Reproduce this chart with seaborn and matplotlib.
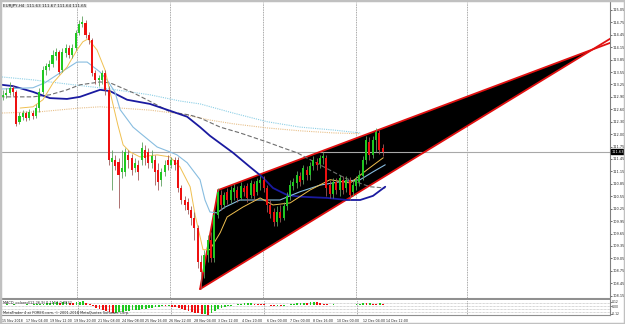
import numpy as np
import pandas as pd
import matplotlib
matplotlib.use("Agg")
import matplotlib.pyplot as plt
from matplotlib.patches import Polygon, Rectangle
import seaborn as sns

sns.set_theme(style="white")
plt.rcParams['font.family'] = ['DejaVu Sans']

# ---------------- data ----------------
opens = [112.95, 113.00, 113.05, 113.17, 113.07, 112.35, 112.47, 112.56, 112.44, 112.56,
         112.49, 112.68, 113.07, 113.60, 113.67, 113.75, 113.94, 114.03, 113.60, 114.01,
         114.13, 113.96, 114.13, 114.49, 114.71, 114.73, 114.45, 114.32, 113.53, 113.36,
         113.36, 113.53, 113.12, 111.38, 111.43, 111.38, 111.14, 111.14, 111.55, 111.48,
         111.23, 111.31, 111.43, 111.67, 111.62, 111.36, 111.43, 111.19, 110.95, 111.14,
         111.43, 111.31, 111.43, 111.43, 110.75, 110.46, 110.41, 110.22, 110.03, 109.79,
         108.97, 108.72, 109.13, 109.50, 109.06, 110.10, 110.58, 110.34, 110.66, 110.46,
         110.66, 110.70, 110.51, 110.75, 110.80, 110.58, 110.85, 110.66, 110.87, 110.95,
         110.75, 110.34, 110.17, 109.93, 110.17, 110.03, 110.32, 110.56, 110.80, 110.87,
         111.04, 110.95, 111.19, 111.07, 111.28, 111.38, 111.33, 111.48, 111.48, 110.82,
         110.61, 110.90, 110.70, 110.95, 110.75, 110.95, 110.66, 110.80, 110.90, 111.04,
         111.43, 111.86, 111.55, 111.91, 112.08, 111.72]
closes = [113.00, 113.05, 113.17, 113.07, 112.30, 112.49, 112.56, 112.44, 112.59, 112.49,
          112.68, 113.07, 113.60, 113.70, 113.75, 113.96, 114.03, 113.55, 114.03, 114.13,
          113.96, 114.13, 114.49, 114.71, 114.76, 114.45, 114.32, 113.53, 113.36, 113.41,
          113.53, 113.12, 111.43, 111.48, 111.28, 111.07, 111.23, 111.62, 111.43, 111.19,
          111.36, 111.14, 111.72, 111.48, 111.36, 111.52, 111.14, 110.90, 111.14, 111.31,
          111.31, 111.43, 111.31, 110.75, 110.46, 110.34, 110.22, 110.03, 109.79, 108.97,
          108.72, 109.13, 109.50, 109.06, 110.10, 110.66, 110.34, 110.58, 110.46, 110.70,
          110.75, 110.51, 110.80, 110.66, 110.51, 110.87, 110.56, 110.92, 110.95, 110.75,
          110.34, 110.12, 109.93, 110.17, 110.03, 110.32, 110.56, 110.82, 110.90, 111.07,
          110.90, 111.23, 111.07, 111.28, 111.43, 111.31, 111.48, 111.52, 110.75, 110.61,
          110.90, 110.70, 110.99, 110.70, 110.95, 110.58, 110.82, 110.95, 111.07, 111.43,
          111.91, 111.55, 111.91, 112.10, 111.67, 111.63]
highs = [113.12, 113.17, 113.31, 113.24, 113.12, 112.59, 112.64, 112.61, 112.66, 112.64,
         112.78, 113.17, 113.70, 113.77, 113.84, 114.08, 114.13, 114.08, 114.13, 114.23,
         114.20, 114.23, 114.57, 114.81, 114.90, 114.81, 114.52, 114.37, 113.60, 113.48,
         113.60, 113.60, 113.21, 111.67, 111.55, 111.48, 111.67, 111.72, 111.67, 111.57,
         111.48, 111.43, 111.86, 111.79, 111.72, 111.67, 111.55, 111.36, 111.23, 111.43,
         111.55, 111.50, 111.50, 111.50, 110.82, 110.56, 110.51, 110.32, 110.17, 109.86,
         109.13, 109.26, 109.62, 109.69, 110.22, 110.75, 110.70, 110.66, 110.75, 110.80,
         110.85, 110.80, 110.90, 110.82, 110.87, 110.95, 110.92, 110.99, 111.04, 111.04,
         110.82, 110.46, 110.27, 110.32, 110.34, 110.41, 110.66, 110.95, 110.99, 111.16,
         111.14, 111.31, 111.28, 111.38, 111.52, 111.48, 111.55, 111.62, 111.55, 110.95,
         110.99, 110.99, 111.07, 111.04, 111.04, 111.02, 110.95, 111.04, 111.19, 111.52,
         112.01, 111.98, 112.01, 112.20, 112.15, 111.81]
lows = [112.88, 112.92, 113.00, 112.97, 112.25, 112.30, 112.39, 112.37, 112.39, 112.42,
        112.44, 112.59, 113.02, 113.48, 113.60, 113.67, 113.84, 113.50, 113.55, 113.91,
        113.89, 113.89, 114.08, 114.45, 114.64, 114.37, 114.23, 113.46, 113.26, 113.21,
        113.26, 113.00, 111.31, 110.70, 111.19, 110.27, 110.99, 111.04, 111.23, 111.07,
        111.14, 110.95, 111.31, 111.31, 111.23, 111.23, 110.82, 110.70, 110.80, 111.04,
        111.19, 111.23, 111.19, 110.66, 110.37, 110.22, 110.12, 109.86, 109.50, 108.82,
        108.31, 108.58, 108.97, 108.97, 108.97, 110.03, 110.22, 110.27, 110.37, 110.39,
        110.46, 110.41, 110.46, 110.56, 110.41, 110.51, 110.46, 110.58, 110.70, 110.66,
        110.17, 110.03, 109.83, 109.83, 109.93, 109.98, 110.22, 110.46, 110.70, 110.75,
        110.80, 110.85, 110.95, 110.95, 111.19, 111.19, 111.23, 111.33, 110.56, 110.51,
        110.51, 110.61, 110.56, 110.61, 110.66, 110.46, 110.56, 110.70, 110.80, 110.95,
        111.33, 111.43, 111.48, 111.62, 111.57, 111.52]

# moving averages: (bar position, price)
ma_navy_x = [-0.3, 3.0, 9.1, 14.2, 19.4, 23.3, 29.4, 32.4, 37.6, 44.5, 51.5, 55.8, 59.7,
             62.7, 69.7, 74.8, 78.5, 81.8, 86.1, 90.0, 98.2, 104.2, 108.2, 112.1, 115.8]
ma_navy_y = [113.24, 113.21, 113.07, 112.92, 112.90, 112.95, 113.12, 113.09, 112.88, 112.78,
             112.59, 112.47, 112.22, 112.01, 111.60, 111.26, 111.02, 110.75, 110.58, 110.54,
             110.51, 110.46, 110.46, 110.56, 110.78]
ma_dash_x = [-0.9, 9.1, 14.2, 19.4, 23.3, 29.4, 32.4, 39.4, 43.6, 50.6, 56.7, 59.7, 65.8,
             71.8, 80.0, 84.8, 89.1, 96.0, 103.6, 111.2, 115.8]
ma_dash_y = [112.95, 112.95, 113.00, 113.12, 113.24, 113.31, 113.29, 113.05, 112.88, 112.59,
             112.51, 112.44, 112.22, 112.08, 111.86, 111.72, 111.60, 111.31, 110.99, 110.78,
             110.75]
ma_sky_x = [-0.3, 9.1, 19.4, 32.4, 44.5, 53.6, 59.7, 69.7, 80.0, 90.0, 100.0, 108.2]
ma_sky_y = [113.43, 113.36, 113.26, 113.14, 113.00, 112.85, 112.78, 112.56, 112.35, 112.22,
            112.15, 112.08]
ma_tan_x = [-0.3, 11.2, 23.3, 29.4, 35.5, 44.5, 53.6, 62.7, 69.7, 80.0, 90.0, 100.0, 108.2]
ma_tan_y = [112.56, 112.59, 112.68, 112.71, 112.68, 112.63, 112.54, 112.39, 112.30, 112.20,
            112.13, 112.08, 112.06]
ma_blue_x = [-0.3, 9.1, 12.7, 17.3, 22.4, 25.5, 29.4, 31.5, 33.9, 35.5, 39.4, 41.5, 46.7,
             50.6, 52.7, 55.8, 59.7, 61.2, 62.7, 64.8, 67.3, 71.8, 78.8, 83.9, 90.0, 96.1,
             102.1, 108.2, 112.1, 115.8]
ma_blue_y = [113.14, 113.17, 113.29, 113.53, 113.79, 113.79, 113.55, 113.36, 113.07, 112.64,
             112.22, 112.08, 111.74, 111.62, 111.55, 111.36, 110.95, 110.46, 110.17, 110.15,
             110.29, 110.46, 110.46, 110.46, 110.66, 110.82, 110.90, 110.95, 111.14, 111.31]
ma_gold_x = [5.2, 9.1, 12.1, 15.2, 19.4, 22.4, 24.2, 25.8, 28.5, 30.9, 33.0, 34.8, 36.4,
             38.5, 41.5, 46.7, 50.6, 53.6, 56.7, 58.2, 60.6, 62.7, 65.8, 67.9, 72.7, 77.9,
             81.8, 87.0, 93.0, 99.1, 105.2, 110.3, 115.2]
ma_gold_y = [112.68, 112.71, 112.88, 113.29, 113.67, 114.08, 114.28, 114.35, 114.08, 113.60,
             112.88, 112.27, 111.79, 111.62, 111.50, 111.55, 111.50, 111.26, 110.78, 110.10,
             109.26, 109.26, 109.67, 110.05, 110.29, 110.51, 110.34, 110.39, 110.70, 110.95,
             110.87, 111.19, 111.48]

# triangle object
tri_x = [59.7, 65.2, 178.7]
tri_y = [108.31, 110.70, 114.10]
line_end_x = 184.5
upper_end_y = 114.27
lower_end_y = 114.38

# indicator histogram
hist = [0.5, 0.6, 0.4, 0.7, 0.5, 0.3, 0.4, 0.6, 0.5, 0.7, 0.8, 1.0,
        1.5, 2.0, 2.5, 2.7, 3.0, 2.5, 3.0, 3.2, 2.5, 2.0, 3.0, 3.5, 3.8,
        2.0, 1.0, -1.0, -3.0, -4.0, -5.0, -6.0, -7.0, -8.0,
        -7.5, -7.0, -6.5, -6.0, -5.5, -5.0, -4.8, -4.5, -4.0, -3.5, -3.0, -2.5, -2.0, -1.5,
        -1.0, -1.2, -1.0, -1.5, -2.0,
        -3.0, -4.0, -5.0, -6.0, -7.0, -7.5, -8.0, -9.0, -9.0, -9.5, -8.0, -6.0, -4.0,
        -3.0, -2.0, -1.0, -0.5, 0.5, 1.0, 1.5, 1.6, 2.0, 2.1,
        1.5, 1.4, 1.0, 0.8, 0.5, -0.5, -1.0, -0.8, -1.2, -0.6,
        0.5, 1.0, 1.5, 1.8, 2.0, 2.5, 2.3, 2.8, 3.0, 2.6, 2.2,
        1.0, 0.8, 0.5, 0.6, 0.4, 0.5, 0.3, 0.4, 0.2, 0.5,
        1.0, 1.5, 2.0, 1.8, 2.2, 1.5, 1.2, 1.6, 1.3]
hist_levels = [2.0, -1.0, -4.0, -7.0]

price_ticks = [115.05, 114.75, 114.45, 114.15, 113.85, 113.55, 113.25, 112.95, 112.65, 112.35,
               112.05, 111.75, 111.45, 111.15, 110.85, 110.55, 110.25, 109.95, 109.65, 109.35,
               109.05, 108.75, 108.45, 108.15]
price_labels = ["115.05", "114.75", "114.45", "114.15", "113.85", "113.55", "113.25", "112.90",
                "112.60", "112.30", "112.00", "111.75", "111.45", "111.15", "110.85", "110.55",
                "110.25", "109.95", "109.65", "109.35", "109.05", "108.75", "108.45", "108.15"]
current_price = 111.63
date_pos = [-0.6, 6.7, 13.9, 21.2, 28.5, 35.8, 42.7, 50.0, 57.6, 64.8, 72.1, 79.7, 86.7,
            93.9, 101.2, 108.8, 115.8]
date_labels = ["15 Nov 2018", "17 Nov 04:00", "19 Nov 12:00", "19 Nov 20:00", "21 Nov 08:00",
               "24 Nov 08:00", "25 Nov 16:00", "26 Nov 22:00", "28 Nov 04:00", "3 Dec 12:00",
               "4 Dec 20:00", "6 Dec 00:00", "7 Dec 00:00", "8 Dec 16:00", "10 Dec 00:00",
               "12 Dec 04:00", "14 Dec 12:00"]
separators = [22.4, 50.6, 78.8, 107.0, 140.6]

# ---------------- figure ----------------
W, H = 625, 324
fig = plt.figure(figsize=(W / 100, H / 100), dpi=100, facecolor="white")
ax = fig.add_axes([2 / W, (H - 299) / H, 608 / W, 297 / H])
ax2 = fig.add_axes([2 / W, (H - 315) / H, 608 / W, 15 / H])

XMIN, XMAX = -0.3, 183.9
for a in (ax, ax2):
    a.set_xlim(XMIN, XMAX)
    a.set_facecolor("white")
ax.set_ylim(108.07, 115.24)
ax2.set_ylim(-10, 5)

# period separators
for s in separators:
    ax.axvline(s, color="#8a8a8a", lw=0.6, ls=(0, (1, 1)), zorder=1)
    ax2.axvline(s, color="#8a8a8a", lw=0.6, ls=(0, (1, 1)), zorder=1)

# triangle (background object)
ax.add_patch(Polygon(list(zip(tri_x, tri_y)), closed=True, facecolor="black",
                     edgecolor="none", zorder=2))
ax.plot([tri_x[0], tri_x[1]], [tri_y[0], tri_y[1]], color="#e01010", lw=1.3, zorder=3)
ax.plot([tri_x[1], line_end_x], [tri_y[1], upper_end_y], color="#e01010", lw=1.3, zorder=3)
ax.plot([tri_x[0], line_end_x], [tri_y[0], lower_end_y], color="#e01010", lw=1.3, zorder=3)

# current price line
ax.axhline(current_price, color="#a8a8a8", lw=0.8, zorder=2.5)

# moving averages via seaborn
def ma(xs, ys, color, lw, ls="-"):
    df = pd.DataFrame({"x": xs, "y": ys})
    sns.lineplot(data=df, x="x", y="y", ax=ax, color=color, lw=lw, linestyle=ls,
                 sort=False, estimator=None, zorder=4)

ma(ma_sky_x, ma_sky_y, "#8ccfe6", 0.8, (0, (1, 1)))
ma(ma_tan_x, ma_tan_y, "#e8c08a", 0.8, (0, (1, 1)))
ma(ma_dash_x, ma_dash_y, "#6e6e6e", 0.8, (0, (4, 2)))
ma(ma_navy_x, ma_navy_y, "#1a1aa0", 1.3)
ma(ma_blue_x, ma_blue_y, "#88bde0", 0.8)
ma(ma_gold_x, ma_gold_y, "#f0c050", 0.7)

# candles
idx = np.arange(len(closes))
o = np.array(opens); c = np.array(closes); h = np.array(highs); l = np.array(lows)
up = c >= o
wick_col = np.where(up, "#5fa05f", "#a05a5a")
ax.vlines(idx, l, h, colors=wick_col, lw=0.6, zorder=5)
body_col = np.where(up, "#20c820", "#ee1010")
ax.bar(idx, np.maximum(np.abs(c - o), 0.02), bottom=np.minimum(o, c), width=0.62,
       color=body_col, linewidth=0, zorder=6)

# right price axis
ax.yaxis.tick_right()
ax.set_yticks(price_ticks)
ax.set_yticklabels(price_labels, fontsize=2.5, color="#222222")
ax.tick_params(axis="y", length=1.5, width=0.5, pad=0.6, colors="#333333", labelcolor="#222222")
ax.set_xticks([])
ax.set_xlabel(""); ax.set_ylabel("")
ax.text(1.002, (current_price - 108.07) / (115.24 - 108.07), f"{current_price:.2f}",
        transform=ax.transAxes, fontsize=2.5, color="white", va="center", ha="left",
        bbox=dict(boxstyle="square,pad=0.15", facecolor="black", edgecolor="black"),
        zorder=10, clip_on=False)
for sp in ["left", "top"]:
    ax.spines[sp].set_visible(False)
ax.spines["right"].set_color("#808080"); ax.spines["right"].set_linewidth(0.8)
ax.spines["bottom"].set_color("#909090"); ax.spines["bottom"].set_linewidth(1.5)

# header
ax.text(0.002, 0.993, "EURJPY,H4  111.63 111.67 111.64 111.65", transform=ax.transAxes,
        fontsize=3.0, va="top", ha="left", color="#222222",
        bbox=dict(boxstyle="square,pad=0.1", facecolor="#e6e6e6", edgecolor="none"))

# indicator panel
hv = np.array(hist)
hcol = ["#20c820" if i == 0 or hv[i] >= hv[i - 1] else "#ee1010" for i in range(len(hv))]
ax2.bar(np.arange(len(hv)), hv, width=0.55, color=hcol, linewidth=0, zorder=4)
for lv in hist_levels:
    ax2.axhline(lv, color="#b0b0b0", lw=0.5, ls=(0, (1, 1)), zorder=1)
ax2.yaxis.tick_right()
ax2.set_yticks([3.5, -1.0, -8.5])
ax2.set_yticklabels(["0.12", "0.00", "-0.12"], fontsize=2.2, color="#222222")
ax2.tick_params(axis="y", length=1.2, width=0.4, pad=0.4)
ax2.set_xticks(date_pos)
ax2.set_xticklabels(date_labels, fontsize=2.3, color="#222222", ha="left")
ax2.tick_params(axis="x", length=1.8, width=0.4, pad=0.8, direction="out")
ax2.set_xlabel(""); ax2.set_ylabel("")
for sp in ["left", "top"]:
    ax2.spines[sp].set_visible(False)
ax2.spines["right"].set_color("#808080"); ax2.spines["right"].set_linewidth(0.8)
ax2.spines["bottom"].set_color("#909090"); ax2.spines["bottom"].set_linewidth(0.8)
ax2.text(0.002, 0.95, "MACD_colored(12,26,9) 0.1153 0.0832", transform=ax2.transAxes,
         fontsize=2.5, va="top", ha="left", color="#222222", zorder=6)
ax2.text(0.002, 0.02, "MetaTrader 4 at FOREX.com, \u00a9 2001-2018 MetaQuotes Software Corp.",
         transform=ax2.transAxes, fontsize=2.5, va="bottom", ha="left", color="#222222", zorder=6)

# window frame
fig.patches.append(Rectangle((0, 0), 1, 1, transform=fig.transFigure, fill=False,
                             edgecolor="#c0c0c0", lw=2.5))

fig.savefig("out.png", dpi=100, facecolor="white")
